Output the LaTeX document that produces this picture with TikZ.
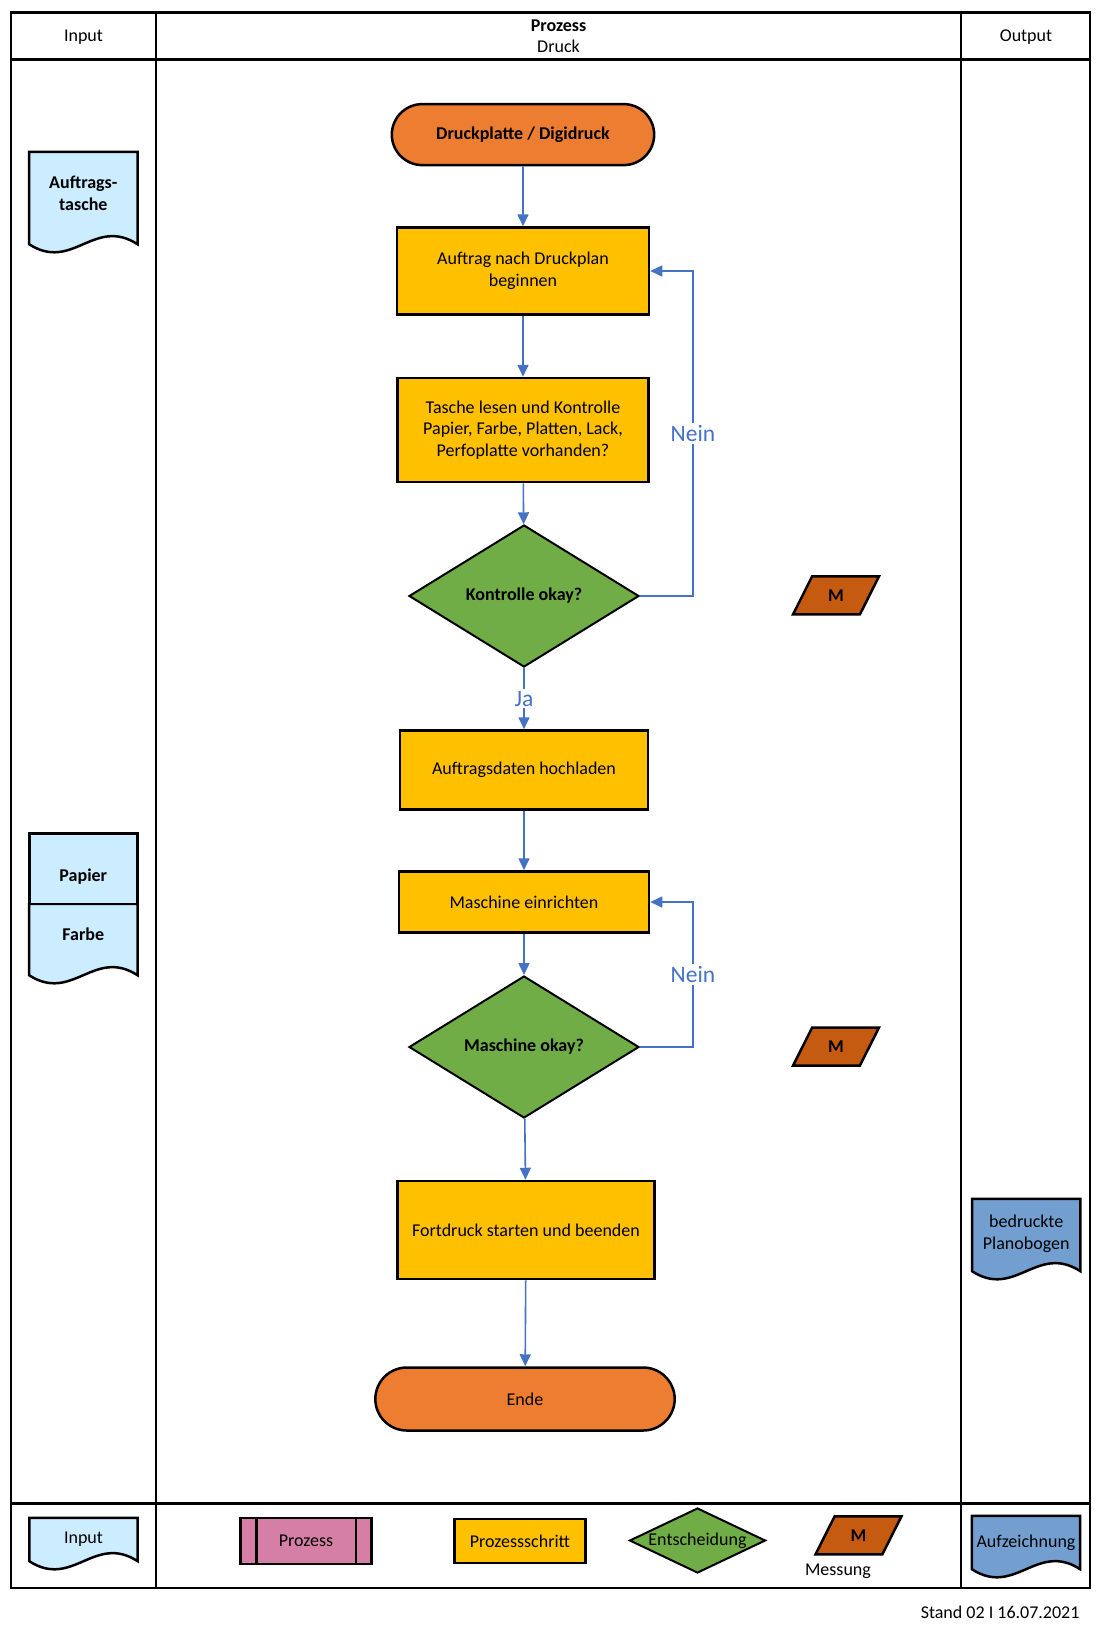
\documentclass[tikz,border=0pt]{standalone}
\usepackage{fontspec}
\setmainfont{Carlito}
\usetikzlibrary{calc, positioning, arrows.meta, shapes.geometric, shapes.misc}
\definecolor{termorange}{HTML}{ED7D31}
\definecolor{stepyellow}{HTML}{FFC000}
\definecolor{decgreen}{HTML}{70AD47}
\definecolor{measbrown}{HTML}{C55A11}
\definecolor{inblue}{HTML}{CCECFF}
\definecolor{outblue}{HTML}{729FCF}
\definecolor{procpink}{HTML}{D57FA6}
\definecolor{flowblue}{HTML}{4472C4}
\newcommand{\bodyfont}{\fontsize{18}{21.5}\selectfont}
\pgfdeclarelayer{back}
\pgfsetlayers{back,main}
% wavy document outline round a node
\newcommand{\docwave}[2]{%
  \begin{pgfonlayer}{back}
  \draw[shapeline, fill=#2] (#1.south west) -- (#1.north west) -- (#1.north east) -- (#1.south east)
    .. controls ($(#1.south west)!0.6!(#1.south east)+(0,-28)$) and ($(#1.south west)!0.4!(#1.south east)+(0,28)$) .. (#1.south west) -- cycle;
  \end{pgfonlayer}}

\begin{document}
\begin{tikzpicture}[x=1pt,y=-1pt, >={Triangle[length=12pt,width=11pt]}]
  \tikzset{
    frameline/.style={draw=black, line width=2.5pt},
    shapeline/.style={draw=black, line width=2.5pt},
    stepbox/.style={rectangle, shapeline, fill=stepyellow, align=center, font=\bodyfont},
    terminal/.style={rounded rectangle, shapeline, fill=termorange, align=center, font=\bodyfont},
    decision/.style={diamond, draw=black, line width=2pt, fill=decgreen, aspect=1.6, inner sep=0, font=\bodyfont\bfseries},
    measure/.style={trapezium, trapezium left angle=64, trapezium right angle=116, trapezium stretches=true,
      shapeline, fill=measbrown, minimum width=86pt, minimum height=38pt, font=\bodyfont\bfseries},
    docnode/.style={rectangle, inner sep=0, minimum width=108pt, align=center, font=\bodyfont},
    flow/.style={->, draw=flowblue, line width=1.6pt},
    lbl/.style={fill=white, text=flowblue, inner sep=2pt, font=\fontsize{23.5}{27}\selectfont}
  }
  \useasboundingbox (0,0) rectangle (1101,1642);

  % frame
  \draw[frameline] (11,12.5) rectangle (1090,1588);
  \draw[frameline] (11,59.7) -- (1090,59.7);
  \draw[frameline] (11,1503.5) -- (1090,1503.5);
  \draw[frameline] (156,12.5) -- (156,1588);
  \draw[frameline] (961,12.5) -- (961,1588);
  \node[font=\bodyfont] (hinput) at (83.5,36.7) {Input};
  \node[font=\bodyfont, align=center] (hproz) at (558.5,36) {\textbf{Prozess}\\Druck};
  \node[font=\bodyfont] (houtput) at (1026,36.7) {Output};

  % flow
  \node[terminal, font=\bodyfont\bfseries, minimum width=269pt, minimum height=61pt] (start) at (523,134.6) {Druckplatte / Digidruck};
  \node[stepbox, minimum width=252pt, minimum height=87pt] (auftrag) at (523,271) {Auftrag nach Druckplan\\beginnen};
  \node[stepbox, minimum width=251pt, minimum height=104pt] (tasche) at (523,430) {Tasche lesen und Kontrolle\\Papier, Farbe, Platten, Lack,\\Perfoplatte vorhanden?};
  \node[decision, minimum width=230pt, minimum height=142pt] (kontrolle) at (524,596) {Kontrolle okay?};
  \node[stepbox, minimum width=248pt, minimum height=79pt] (daten) at (524,770) {Auftragsdaten hochladen};
  \node[stepbox, minimum width=250pt, minimum height=61pt] (einrichten) at (524,902) {Maschine einrichten};
  \node[decision, minimum width=230pt, minimum height=142pt] (maschine) at (524,1047) {Maschine okay?};
  \node[stepbox, minimum width=257pt, minimum height=98pt] (fortdruck) at (526,1230) {Fortdruck starten und beenden};
  \node[terminal, minimum width=306pt, minimum height=63pt] (ende) at (525,1399) {Ende};

  \node[measure] (mess1) at (836,595.4) {M};
  \node[measure] (mess2) at (836,1046.6) {M};

  \draw[flow] (start) -- (auftrag);
  \draw[flow] (auftrag) -- (tasche);
  \draw[flow] (tasche) -- (kontrolle);
  \draw[flow] (kontrolle) -- node[lbl] {Ja} (daten);
  \draw[flow] (kontrolle.east) -- ++(53,0) |- node[lbl, pos=0.25] {Nein} (auftrag.east);
  \draw[flow] (daten) -- (einrichten);
  \draw[flow] (einrichten) -- (maschine);
  \draw[flow] (maschine.east) -- ++(53,0) |- node[lbl, pos=0.25] {Nein} (einrichten.east);
  \draw[flow] (maschine) -- (fortdruck);
  \draw[flow] (fortdruck) -- (ende);

  % input / output
  \node[docnode, font=\bodyfont\bfseries, text height=28pt, text depth=3.5pt, minimum height=92pt] (tasche2) at (83.3,198) {Auftrags-\\tasche};
  \docwave{tasche2}{inblue}
  \node[docnode, shapeline, fill=inblue, font=\bodyfont\bfseries, text height=28pt, text depth=2.4pt, minimum height=70.7pt] (papier) at (83.3,868.7) {Papier};
  \node[docnode, font=\bodyfont\bfseries, text height=6pt, text depth=4.8pt, minimum height=71pt] (farbe) at (83.3,939.5) {Farbe};
  \docwave{farbe}{inblue}
  \node[docnode, text height=31.5pt, text depth=3.4pt, minimum height=72pt] (bogen) at (1026.2,1235) {bedruckte\\Planobogen};
  \docwave{bogen}{outblue}

  % legend
  \node[docnode, minimum height=43pt] (leginput) at (83.5,1539.5) {Input};
  \docwave{leginput}{inblue}
  \node[stepbox, fill=procpink, minimum width=131pt, minimum height=46pt] (legproz) at (306,1541) {Prozess};
  \draw[shapeline] ($(legproz.north west)+(17,0)$) -- ($(legproz.south west)+(17,0)$);
  \draw[shapeline] ($(legproz.north east)+(-17,0)$) -- ($(legproz.south east)+(-17,0)$);
  \node[stepbox, minimum width=131pt, minimum height=44pt] (legschritt) at (520,1541) {Prozessschritt};
  \node[decision, aspect=2, font=\bodyfont, minimum width=136pt, minimum height=65pt] (legentsch) at (697.5,1540.5) {Entscheidung};
  \node[measure] (legmess) at (858.5,1535.3) {M};
  \node[font=\bodyfont] (messung) at (838,1571) {Messung};
  \node[docnode, minimum height=53pt] (legaufz) at (1026,1542.5) {Aufzeichnung};
  \docwave{legaufz}{outblue}

  \node[font=\bodyfont, anchor=east] (stand) at (1083,1612) {Stand 02 I 16.07.2021};
\end{tikzpicture}
\end{document}
